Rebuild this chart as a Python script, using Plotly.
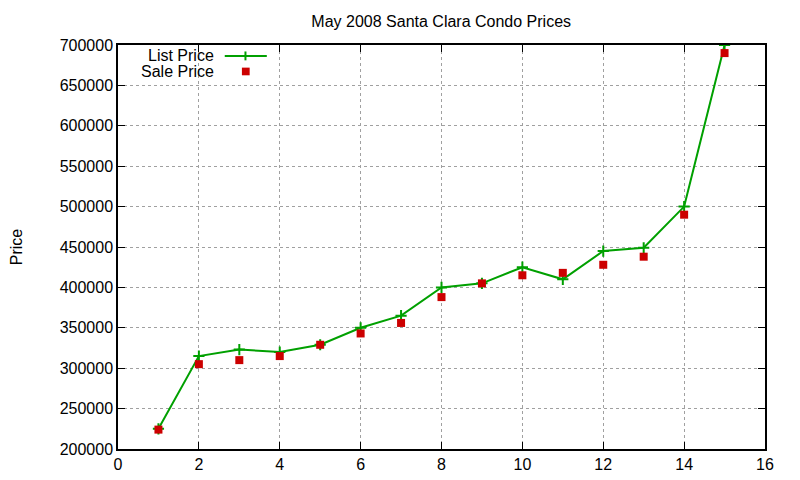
import plotly.graph_objects as go

# ---- data ----
listing = [1, 2, 3, 4, 5, 6, 7, 8, 9, 10, 11, 12, 13, 14, 15]
list_price = [225000, 315000, 323000, 320000, 329000, 350000, 365000, 400000,
              405000, 425000, 410000, 445000, 449000, 500000, 700000]
sale_price = [224000, 305000, 310000, 315000, 329000, 343000, 356000, 388000,
              405000, 415000, 418000, 428000, 438000, 490000, 690000]

GREEN = "#00a000"
RED = "#cc0000"
FONT = "Liberation Sans, Arial, sans-serif"

fig = go.Figure()

fig.add_trace(go.Scatter(
    x=listing, y=list_price, mode="lines+markers", name="List Price",
    line=dict(color=GREEN, width=2),
    marker=dict(symbol="cross-thin", size=8, line=dict(color=GREEN, width=2)),
))
fig.add_trace(go.Scatter(
    x=listing, y=sale_price, mode="markers", name="Sale Price",
    marker=dict(symbol="square", size=8, color=RED),
))

# gnuplot style key: text on the left, sample on the right
fig.add_annotation(text="List Price", xref="paper", yref="paper", x=0.152, y=0.973,
                   xanchor="right", yanchor="middle", showarrow=False,
                   font=dict(family=FONT, size=16, color="#000000"))
fig.add_annotation(text="Sale Price", xref="paper", yref="paper", x=0.152, y=0.934,
                   xanchor="right", yanchor="middle", showarrow=False,
                   font=dict(family=FONT, size=16, color="#000000"))
fig.add_shape(type="line", xref="paper", yref="paper", x0=0.165, x1=0.230,
              y0=0.973, y1=0.973, line=dict(color=GREEN, width=2))
fig.add_shape(type="line", xref="paper", yref="paper", x0=0.197, x1=0.197,
              y0=0.962, y1=0.984, line=dict(color=GREEN, width=2))
fig.add_shape(type="rect", xref="paper", yref="paper", x0=0.1915, x1=0.2035,
              y0=0.925, y1=0.944, line=dict(width=0), fillcolor=RED)

axis_common = dict(
    showline=True, linecolor="#000000", linewidth=1.5, mirror="ticks",
    ticks="inside", ticklen=7, tickcolor="#000000", tickwidth=1,
    showgrid=True, gridcolor="#a0a0a0", griddash="dot", gridwidth=1,
    zeroline=False, automargin=False,
    tickfont=dict(family=FONT, size=16, color="#000000"),
)

# page body has an 8px margin, so the figure is sized to fit the window
fig.update_layout(
    width=792, height=472,
    paper_bgcolor="white", plot_bgcolor="white",
    showlegend=False,
    margin=dict(l=110, r=35, t=37, b=31),
    title=dict(text="May 2008 Santa Clara Condo Prices", x=0.547, xanchor="center",
               y=0.971, yanchor="middle",
               font=dict(family=FONT, size=16, color="#000000")),
    xaxis=dict(range=[0, 16], dtick=2, tick0=0, **axis_common),
    yaxis=dict(range=[200000, 700000], dtick=50000, tick0=200000, tickformat="d",
               title=dict(text="Price", standoff=44,
                          font=dict(family=FONT, size=16, color="#000000")),
               **axis_common),
)

fig.write_html("out.html")
